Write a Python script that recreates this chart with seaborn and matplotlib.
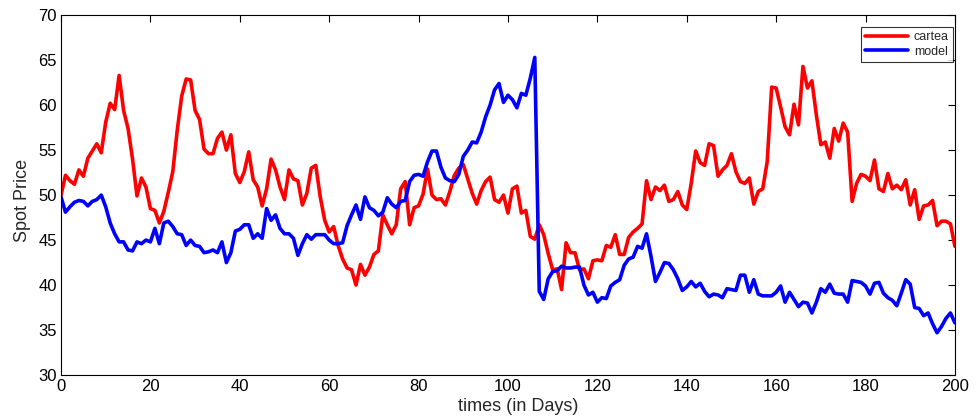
import numpy as np
import pandas as pd
import matplotlib
matplotlib.use("Agg")
import matplotlib.pyplot as plt
import seaborn as sns

# values, one per day (0..200)
cartea = [
    50.0, 52.2, 51.6, 51.2, 52.8, 52.1, 54.1, 54.9, 55.7, 54.7,
    58.1, 60.2, 59.5, 63.3, 59.4, 57.4, 54.0, 49.9, 51.9, 50.9,
    48.5, 48.3, 46.9, 48.2, 50.3, 52.6, 57.2, 61.0, 62.9, 62.8,
    59.4, 58.4, 55.1, 54.6, 54.6, 56.3, 57.0, 55.0, 56.7, 52.4,
    51.4, 52.6, 54.8, 51.7, 50.9, 48.8, 50.7, 54.0, 52.8, 50.9,
    49.5, 52.8, 51.8, 51.6, 48.9, 50.2, 53.0, 53.3, 49.8, 47.2,
    45.9, 46.5, 44.4, 42.9, 41.9, 41.7, 40.0, 42.3, 41.1, 42.0,
    43.4, 43.8, 47.8, 46.7, 45.7, 46.7, 50.7, 51.5, 46.7, 48.6,
    48.8, 50.1, 52.9, 50.0, 49.5, 49.6, 48.9, 50.4, 52.2, 53.0,
    53.4, 51.8, 50.2, 49.0, 50.5, 51.5, 52.0, 49.5, 49.2, 50.0,
    48.0, 50.7, 51.0, 48.0, 48.3, 45.4, 45.1, 46.7, 45.6, 43.5,
    41.7, 41.8, 39.5, 44.7, 43.6, 43.6, 41.7, 41.8, 40.7, 42.7,
    42.8, 42.7, 44.4, 44.2, 45.6, 43.4, 43.4, 45.3, 45.9, 46.3,
    46.8, 51.6, 49.5, 50.9, 50.5, 51.1, 49.3, 49.5, 50.4, 48.9,
    48.4, 51.3, 54.9, 53.6, 53.3, 55.7, 55.5, 52.1, 52.8, 53.3,
    54.6, 52.6, 51.5, 51.3, 51.9, 49.0, 50.4, 50.7, 53.7, 62.0,
    61.9, 59.8, 57.6, 56.7, 60.1, 57.8, 64.3, 61.9, 62.7, 58.9,
    55.6, 55.9, 54.1, 57.4, 56.0, 58.0, 57.0, 49.3, 51.3, 52.3,
    52.1, 51.6, 53.9, 50.7, 50.4, 52.4, 50.7, 51.1, 50.6, 51.7,
    48.9, 50.6, 47.3, 48.8, 48.9, 49.4, 46.6, 47.1, 47.1, 46.8,
    44.3,
]

model = [
    49.8, 48.1, 48.7, 49.2, 49.4, 49.3, 48.8, 49.3, 49.5, 50.0,
    48.7, 46.9, 45.7, 44.8, 44.8, 43.9, 43.8, 44.8, 44.6, 45.0,
    44.8, 46.3, 44.6, 46.9, 47.1, 46.5, 45.7, 45.6, 44.4, 45.0,
    44.4, 44.3, 43.6, 43.7, 43.9, 43.6, 44.8, 42.5, 43.6, 46.0,
    46.2, 46.7, 46.7, 45.2, 45.7, 45.2, 48.5, 47.2, 47.8, 46.3,
    45.7, 45.7, 45.2, 43.3, 44.6, 45.6, 45.1, 45.6, 45.6, 45.6,
    45.0, 44.6, 44.6, 44.7, 46.6, 47.8, 48.9, 47.3, 49.8, 48.6,
    48.3, 47.7, 48.1, 49.7, 49.0, 48.6, 49.3, 49.4, 51.5, 52.2,
    52.3, 52.1, 53.7, 54.9, 54.9, 53.1, 51.9, 51.6, 51.5, 52.3,
    54.3, 55.0, 55.9, 55.8, 57.0, 58.7, 60.0, 61.7, 62.4, 60.3,
    61.1, 60.6, 59.7, 61.3, 61.1, 63.0, 65.3, 39.3, 38.4, 40.7,
    41.5, 41.6, 42.1, 41.9, 41.9, 42.0, 42.0, 40.0, 38.9, 39.2,
    38.1, 38.6, 38.5, 39.9, 40.3, 40.6, 42.2, 42.9, 43.1, 44.3,
    44.1, 45.7, 43.2, 40.4, 41.4, 42.5, 42.4, 41.7, 40.7, 39.4,
    39.8, 40.4, 39.8, 40.2, 39.3, 38.7, 39.0, 38.9, 38.6, 39.6,
    39.5, 39.4, 41.1, 41.1, 39.2, 40.6, 39.0, 38.8, 38.8, 38.8,
    39.2, 39.9, 38.1, 39.2, 38.4, 37.6, 38.1, 38.0, 36.9, 38.1,
    39.6, 39.2, 40.1, 39.1, 39.0, 39.0, 38.1, 40.5, 40.4, 40.3,
    39.9, 39.0, 40.2, 40.3, 39.1, 38.6, 38.3, 37.7, 39.1, 40.6,
    40.1, 37.5, 37.4, 36.6, 36.9, 35.7, 34.7, 35.4, 36.3, 36.9,
    35.8,
]

days = np.arange(len(cartea))

df = pd.DataFrame({"day": days, "cartea": cartea, "model": model})
long_df = df.melt(id_vars="day", var_name="series", value_name="price")

sns.set_style("white")
plt.rcParams["font.family"] = ["Liberation Sans", "DejaVu Sans"]

fig = plt.figure(figsize=(9.78, 4.2), dpi=100)
ax = fig.add_axes([0.0624, 0.107, 0.914, 0.857])

sns.lineplot(data=long_df, x="day", y="price", hue="series",
             palette={"cartea": "#ff0000", "model": "#0000ff"},
             linewidth=2.6, ax=ax)

ax.set_xlim(0, 200)
ax.set_ylim(30, 70)
ax.set_xticks(range(0, 201, 20))
ax.set_yticks(range(30, 71, 5))
ax.tick_params(direction="in", length=5, width=0.8, top=True, right=True,
               labelsize=12, colors="black", pad=3)
for sp in ax.spines.values():
    sp.set_color("black")
    sp.set_linewidth(0.8)

ax.set_xlabel("times (in Days)", fontsize=13)
ax.set_ylabel("Spot Price", fontsize=13)
ax.xaxis.set_label_coords(0.511, -0.065)
ax.yaxis.set_label_coords(-0.034, 0.486)

leg = ax.legend(loc="upper right", bbox_to_anchor=(0.998, 0.967),
                fontsize=9, handlelength=3.4, frameon=True,
                fancybox=False, borderaxespad=0, borderpad=0.35,
                labelspacing=0.2, handletextpad=0.5)
leg.get_frame().set_edgecolor("black")
leg.get_frame().set_linewidth(0.8)
leg.set_title(None)

fig.savefig("out.png", dpi=100)
